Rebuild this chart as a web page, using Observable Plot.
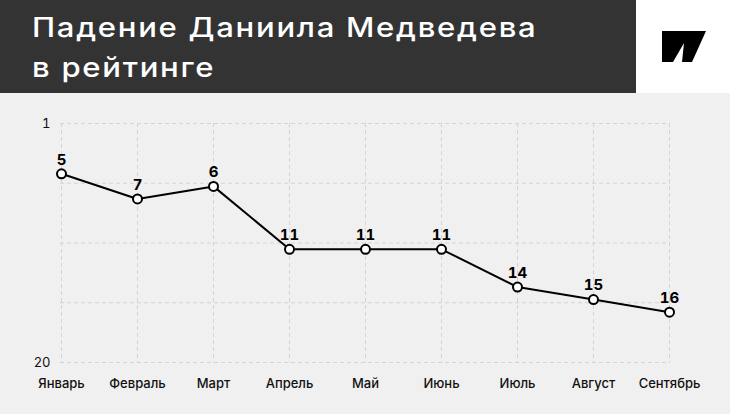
<!DOCTYPE html>
<html>
<head>
<meta charset="utf-8">
<script src="https://cdn.jsdelivr.net/npm/d3@7"></script>
<script src="https://cdn.jsdelivr.net/npm/@observablehq/plot@0.6"></script>
<style>
  html, body { margin: 0; padding: 0; }
  body { width: 730px; height: 414px; background: #f0f0f0; overflow: hidden; font-family: Inter, "Noto Sans", sans-serif; }
  #header { position: relative; width: 730px; height: 93px; background: #ffffff; }
  #title-box { position: absolute; left: 0; top: 0; width: 636px; height: 93px; background: #333333; }
  #title { position: absolute; left: 32px; top: 8px; margin: 0; color: #ffffff; font-family: Inter, sans-serif; font-weight: 500; font-size: 27px; line-height: 40px; letter-spacing: 1.5px; white-space: nowrap; transform: scaleX(1.15); transform-origin: 0 0; }
  #logo { position: absolute; left: 0; top: 0; }
  #chart svg { display: block; }
</style>
</head>
<body>
<div id="header">
  <div id="title-box"><h1 id="title">Падение Даниила Медведева<br>в рейтинге</h1></div>
  <svg id="logo" width="730" height="93"><polygon points="662,31 706,31 692,62 682,62 684,43 673,62 662,62" fill="#000"/></svg>
</div>
<div id="chart"></div>
<script>
const months = ["Январь", "Февраль", "Март", "Апрель", "Май", "Июнь", "Июль", "Август", "Сентябрь"];
const ranks = [5, 7, 6, 11, 11, 11, 14, 15, 16];
const yGridValues = [1, 5.75, 10.5, 15.25, 20];
const yTickLabels = [1, 20];

const data = months.map((m, i) => ({month: m, rank: ranks[i]}));

const chart = Plot.plot({
  width: 730,
  height: 321,
  marginTop: 30,
  marginBottom: 52,
  marginLeft: 60,
  marginRight: 60,
  style: {background: "transparent", fontFamily: "Inter, sans-serif", color: "#111"},
  x: {type: "point", domain: months, padding: 0, label: null},
  y: {domain: [1, 20], reverse: true, label: null},
  marks: [
    Plot.gridY(yGridValues, {stroke: "#d4d4d4", strokeOpacity: 1, strokeDasharray: "4,3"}),
    Plot.gridX(months, {stroke: "#d4d4d4", strokeOpacity: 1, strokeDasharray: "4,3"}),
    Plot.axisY(yTickLabels, {tickSize: 0, tickPadding: 10, fontSize: 13, fill: "#111"}),
    Plot.axisX({tickSize: 0, tickPadding: 16, fontSize: 13, fontWeight: 500, fill: "#111"}),
    Plot.line(data, {x: "month", y: "rank", stroke: "#000", strokeWidth: 2}),
    Plot.dot(data, {x: "month", y: "rank", r: 4.5, fill: "#fff", stroke: "#000", strokeWidth: 2}),
    Plot.text(data, {x: "month", y: "rank", text: "rank", dy: -14, fontSize: 15, fontWeight: 700, fill: "#000"})
  ]
});
document.getElementById("chart").appendChild(chart);
</script>
</body>
</html>
